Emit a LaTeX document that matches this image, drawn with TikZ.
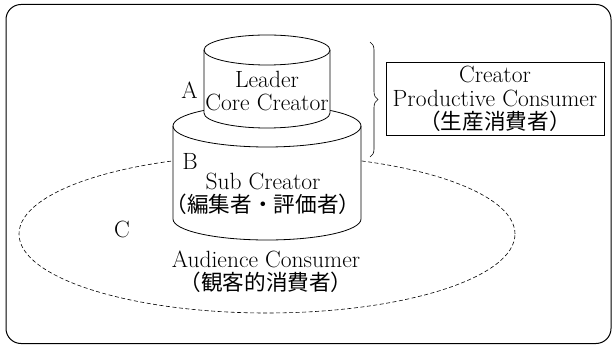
\documentclass[tikz,border=0pt]{standalone}
\usepackage{fontspec}
\usepackage{tikz}
\usetikzlibrary{decorations.pathreplacing}
\newfontfamily\jp{Noto Sans CJK JP}[Scale=0.92]

\begin{document}
\begin{tikzpicture}[x=1pt,y=1pt,font=\fontsize{23.5}{23.5}\selectfont,
  frame/.style={draw,line width=1pt,rounded corners=15pt},
  drum/.style={draw,fill=white,line width=0.8pt},
  crowd/.style={draw,line width=0.6pt,dash pattern=on 4pt off 2.5pt},
  lbl/.style={align=center,inner sep=0pt},
  tag/.style={draw,line width=0.7pt,align=center,minimum width=218pt,minimum height=73pt,inner sep=0pt}]
\useasboundingbox (0,0) rectangle (612,345);
\draw[frame] (6,1.5) rectangle (611,340.5);

% audience ring behind the drums
\draw[crowd] (267,111) ellipse (248 and 79);

% lower drum: sub creators
\draw[drum] (173,219) -- (173,126) arc (180:360:94pt and 21pt) -- (361,219) arc (0:180:94pt and 21pt) -- cycle;
\draw[line width=0.8pt] (173,219) arc (180:360:94pt and 21pt);

% upper drum: leaders
\draw[drum] (204,295) -- (204,232) arc (180:360:63pt and 15pt) -- (330,295) arc (0:180:63pt and 15pt) -- cycle;
\draw[line width=0.8pt] (204,295) arc (180:360:63pt and 15pt);

\node[lbl] (lead) at (267,254) {Leader\\Core Creator};
\node[lbl] (a) at (189.5,255) {A};
\node[lbl] (b) at (190,183.5) {B};
\node[lbl] (sub) at (263,151) {Sub Creator\\{\jp （編集者・評価者）}};
\node[lbl] (c) at (122,116) {C};
\node[lbl] (aud) at (266,73.5) {Audience Consumer\\{\jp （観客的消費者）}};

% brace over the two drums
\coordinate (btop) at (370,303);
\coordinate (bbot) at (370,188);
\draw[line width=0.6pt,decorate,decoration={brace,amplitude=8pt}] (btop) -- (bbot);
\node[tag] (creator) at (495,246) {Creator\\Productive Consumer\\{\jp （生産消費者）}};
\end{tikzpicture}
\end{document}
